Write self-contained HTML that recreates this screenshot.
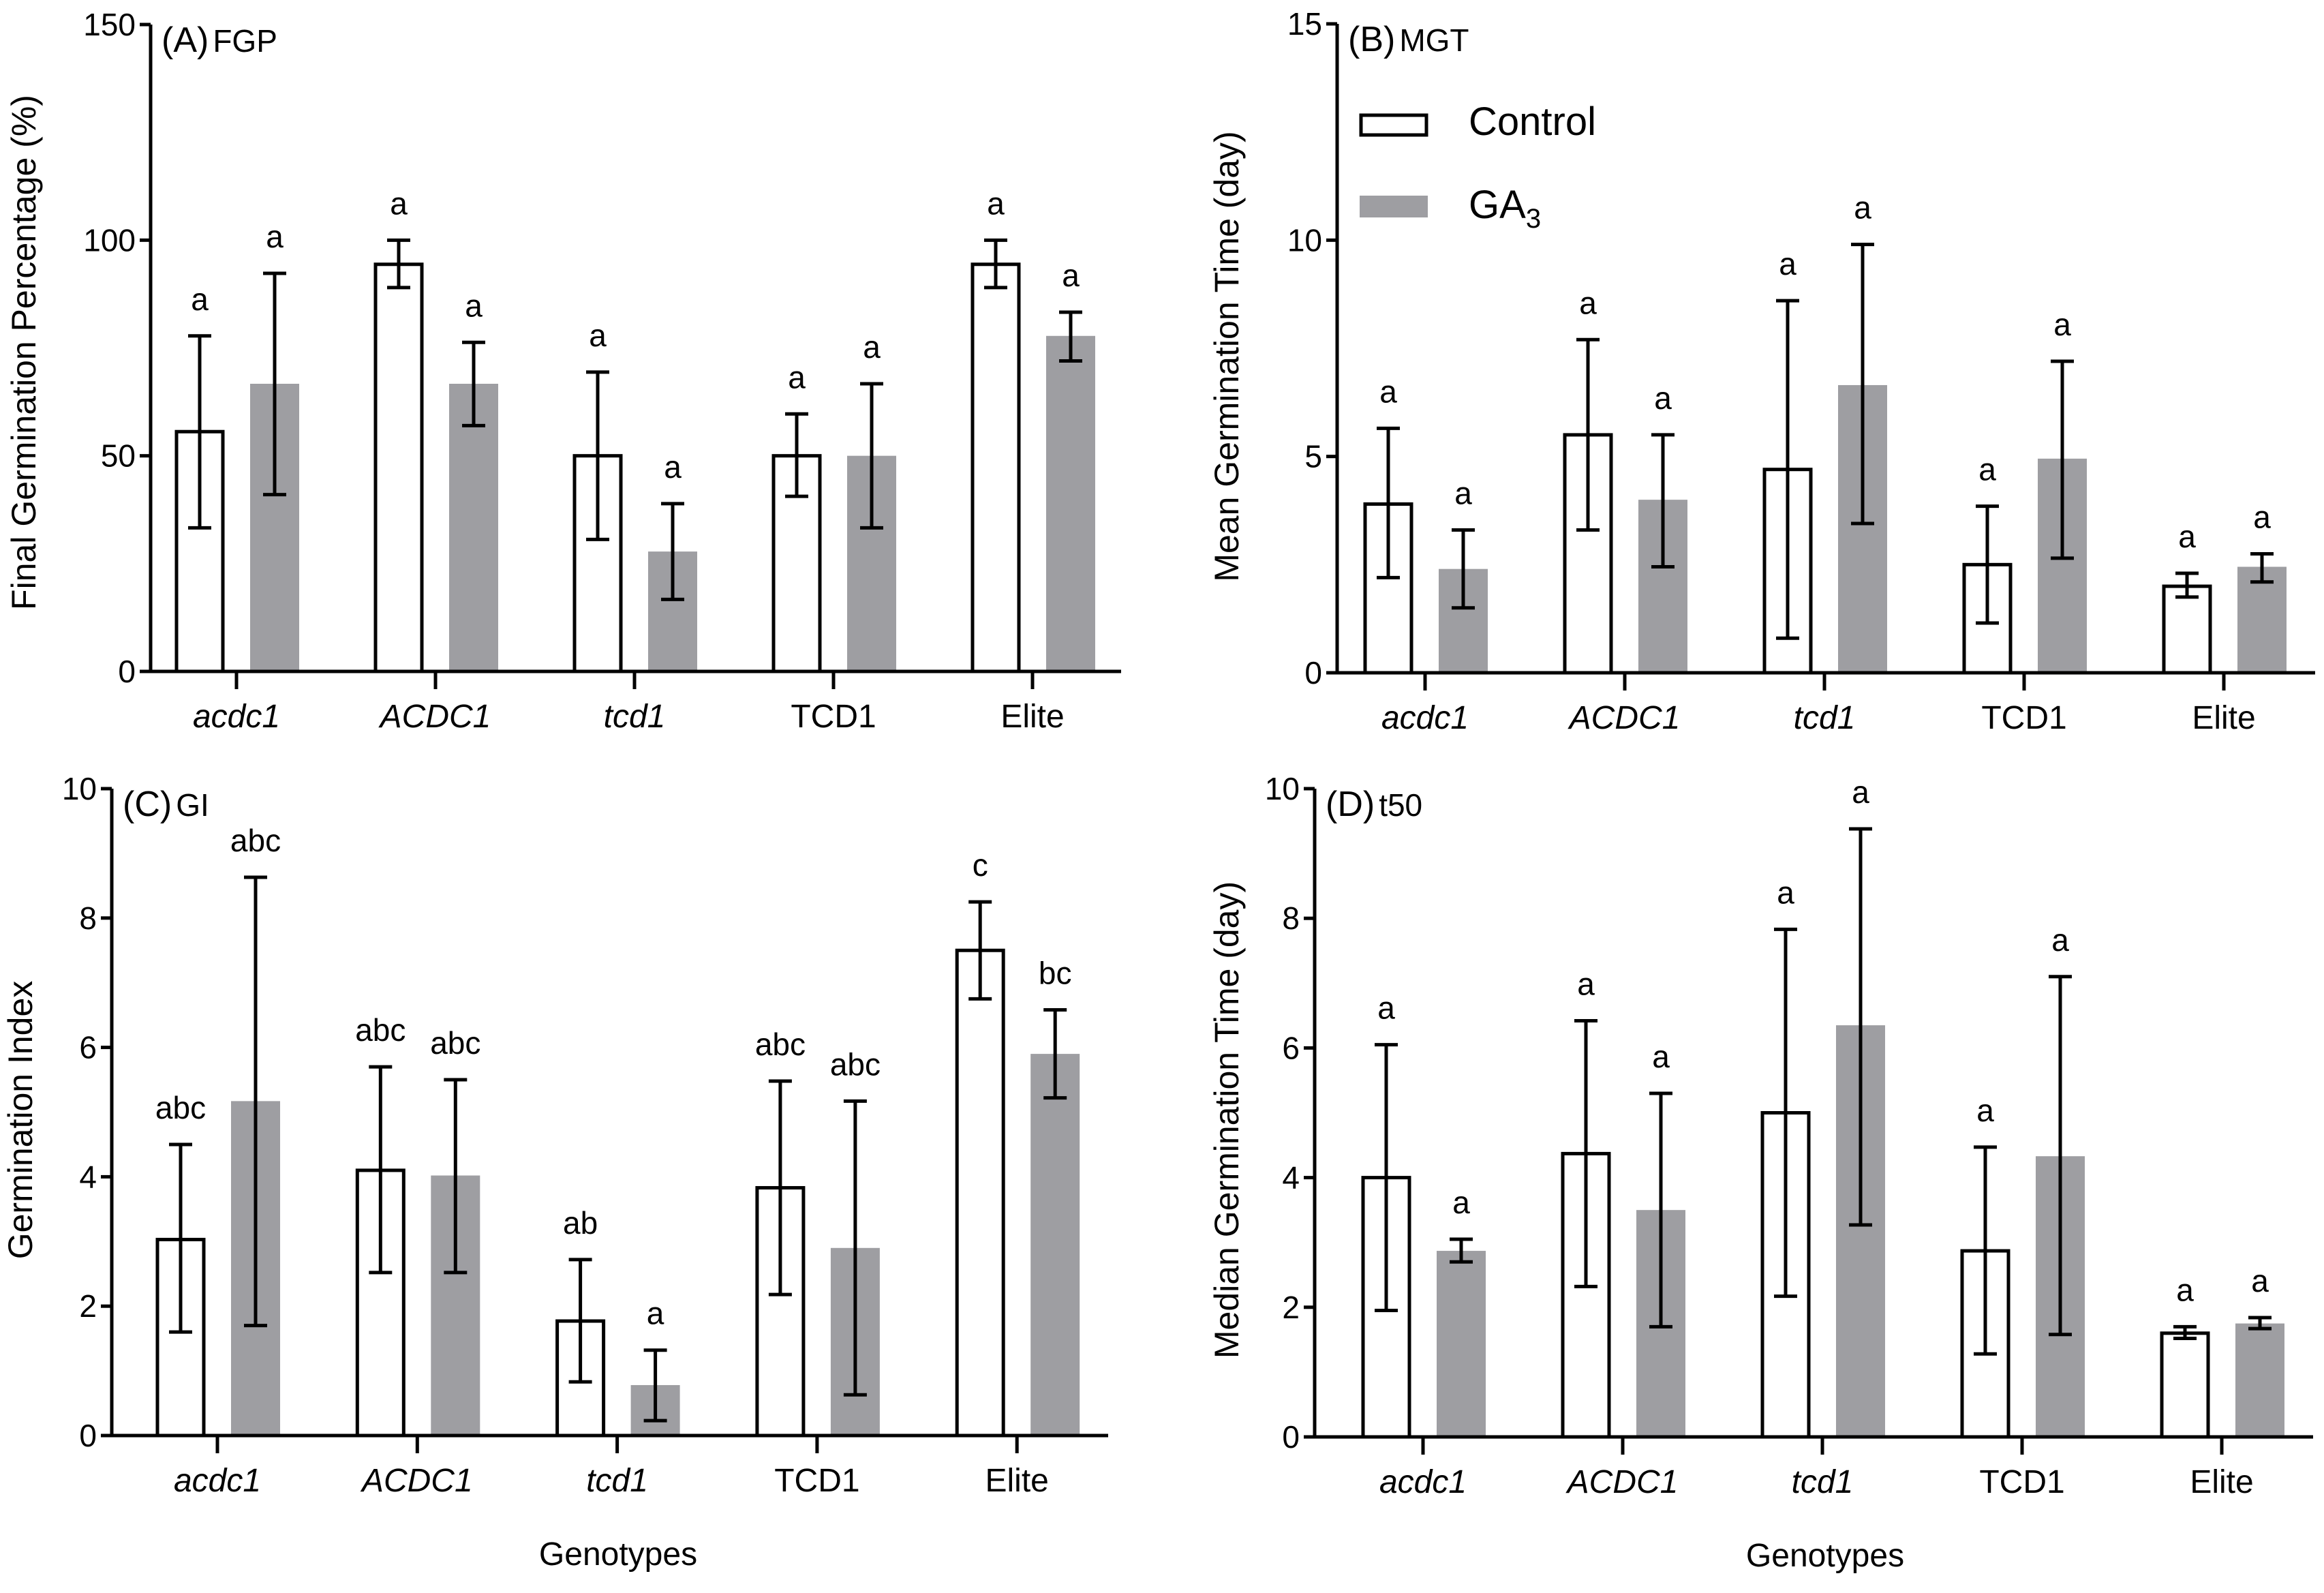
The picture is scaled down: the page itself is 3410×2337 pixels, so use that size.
<!DOCTYPE html>
<html><head><meta charset="utf-8"><style>
html,body{margin:0;padding:0;background:#fff;}
svg{display:block;font-family:"Liberation Sans",Arial,sans-serif;}
</style></head><body>
<svg id="fig" width="3410" height="2337" viewBox="0 0 3410 2337" xmlns="http://www.w3.org/2000/svg">
<g>
<rect x="1997" y="169" width="96" height="29" fill="#fff" stroke="#000" stroke-width="5"/>
<text x="2155" y="198" font-size="58">Control</text>
<rect x="1995" y="287" width="100" height="32" fill="#9e9ea2"/>
<text x="2155" y="320" font-size="58">GA<tspan font-size="40" dy="14">3</tspan></text>
</g>
</svg>
<script>
const categories = ["acdc1","ACDC1","tcd1","TCD1","Elite"];
const italicCats = [true,true,true,false,false];
// Panel A FGP
const fgpControl = [55.6,94.4,50,50,94.4];
const fgpControlLo = [33.3,89,30.6,40.6,89];
const fgpControlHi = [77.8,100,69.4,59.7,100];
const fgpGA3 = [66.7,66.7,27.8,50,77.8];
const fgpGA3Lo = [41,57,16.7,33.3,72];
const fgpGA3Hi = [92.3,76.3,38.9,66.7,83.3];
const fgpLettersC = ["a","a","a","a","a"];
const fgpLettersG = ["a","a","a","a","a"];
const fgpTicks = [0,50,100,150];
// Panel B MGT
const mgtControl = [3.9,5.5,4.7,2.5,2.0];
const mgtControlLo = [2.2,3.3,0.8,1.15,1.75];
const mgtControlHi = [5.65,7.7,8.6,3.85,2.3];
const mgtGA3 = [2.4,4.0,6.65,4.95,2.45];
const mgtGA3Lo = [1.5,2.45,3.45,2.65,2.1];
const mgtGA3Hi = [3.3,5.5,9.9,7.2,2.75];
const mgtLettersC = ["a","a","a","a","a"];
const mgtLettersG = ["a","a","a","a","a"];
const mgtTicks = [0,5,10,15];
// Panel C GI
const giControl = [3.03,4.1,1.77,3.83,7.5];
const giControlLo = [1.6,2.52,0.83,2.18,6.75];
const giControlHi = [4.5,5.7,2.72,5.48,8.25];
const giGA3 = [5.17,4.02,0.78,2.9,5.9];
const giGA3Lo = [1.7,2.52,0.23,0.63,5.22];
const giGA3Hi = [8.63,5.5,1.32,5.17,6.58];
const giLettersC = ["abc","abc","ab","abc","c"];
const giLettersG = ["abc","abc","a","abc","bc"];
const giTicks = [0,2,4,6,8,10];
// Panel D t50
const t50Control = [4.0,4.37,5.0,2.87,1.6];
const t50ControlLo = [1.95,2.32,2.17,1.28,1.52];
const t50ControlHi = [6.05,6.42,7.83,4.47,1.7];
const t50GA3 = [2.87,3.5,6.35,4.33,1.75];
const t50GA3Lo = [2.7,1.7,3.27,1.58,1.67];
const t50GA3Hi = [3.05,5.3,9.38,7.1,1.84];
const t50LettersC = ["a","a","a","a","a"];
const t50LettersG = ["a","a","a","a","a"];
const t50Ticks = [0,2,4,6,8,10];

const NS="http://www.w3.org/2000/svg";
const svg=document.getElementById('fig');
function mk(tag,attrs,parent){const e=document.createElementNS(NS,tag);for(const k in attrs)e.setAttribute(k,attrs[k]);(parent||svg).appendChild(e);return e;}

function panel(p){
  const g=mk('g',{});
  
  
  const ymax=p.ticks[p.ticks.length-1];
  const y=v=>p.y0-(v/ymax)*(p.y0-p.yTop);
  const x=i=>p.x1+i*p.step;
  for(let i=0;i<categories.length;i++){
    const cx=x(i)-54, gx=x(i)+56, w=68;
    const gb=mk('rect',{x:gx-w/2-2,y:y(p.g[i]),width:w+4,height:p.y0-y(p.g[i]),fill:'#9e9ea2'},g);
    
    
    const cb=mk('rect',{x:cx-w/2,y:y(p.c[i]),width:w,height:p.y0-y(p.c[i]),fill:'#fff',stroke:'#000','stroke-width':5},g);
    
    
    [[cx,p.cl[i],p.ch[i],p.lc[i]],[gx,p.gl[i],p.gh[i],p.lg[i]]].forEach(([bx,lo,hi,lab],k)=>{
      const eb=mk('path',{d:`M${bx} ${y(lo)}V${y(hi)}M${bx-17} ${y(lo)}H${bx+17}M${bx-17} ${y(hi)}H${bx+17}`,stroke:'#000','stroke-width':5,fill:'none'},g);
      
      
      const t=mk('text',{x:bx,y:y(hi)-38,'font-size':46,'text-anchor':'middle'},g);
      t.textContent=lab;
      
      
    });
  }
  const ax=mk('path',{d:`M${p.ax} ${p.yTop}V${p.y0}H${p.xEnd}`,stroke:'#000','stroke-width':5,fill:'none'},g);
  
  
  p.ticks.forEach(v=>{
    const tk=mk('path',{d:`M${p.ax-16} ${y(v)}H${p.ax}`,stroke:'#000','stroke-width':5},g);
    
    
    const t=mk('text',{x:p.ax-22,y:y(v)+16,'font-size':46,'text-anchor':'end'},g);
    t.textContent=v;
    
    
  });
  categories.forEach((c,i)=>{
    const tk=mk('path',{d:`M${x(i)} ${p.y0}V${p.y0+26}`,stroke:'#000','stroke-width':5},g);
    
    
    const t=mk('text',{x:x(i),y:p.y0+82,'font-size':48,'text-anchor':'middle','font-style':italicCats[i]?'italic':'normal'},g);
    t.textContent=c;
    
    
  });
  const yt=mk('text',{x:0,y:0,'font-size':50,'text-anchor':'middle','xml:space':'preserve',transform:`translate(${p.ytX},${p.ytY}) rotate(-90)`},g);
  yt.textContent=p.ytitle;
  
  
  const pl=mk('text',{x:p.ax+16,y:p.yTop+40,'font-size':52,'font-family':'"Liberation Sans Narrow","Liberation Sans",sans-serif'},g);
  pl.innerHTML=p.label+'<tspan font-size="46" dx="6">'+p.sub+'</tspan>';
  
  
  if(p.xtitle){
    const xt=mk('text',{x:p.xtX,y:p.y0+190,'font-size':48,'text-anchor':'middle'},g);
    xt.textContent='Genotypes';
    
    
  }
}
panel({id:'fgp',label:'(A)',sub:'FGP',ax:221,yTop:36,y0:985,x1:347,step:292,xEnd:1645,ticks:fgpTicks,
  c:fgpControl,cl:fgpControlLo,ch:fgpControlHi,g:fgpGA3,gl:fgpGA3Lo,gh:fgpGA3Hi,lc:fgpLettersC,lg:fgpLettersG,
  ytitle:'Final Germination  Percentage (%)',ytX:52,ytY:517});
panel({id:'mgt',label:'(B)',sub:'MGT',ax:1962,yTop:35,y0:987,x1:2091,step:293,xEnd:3397,ticks:mgtTicks,
  c:mgtControl,cl:mgtControlLo,ch:mgtControlHi,g:mgtGA3,gl:mgtGA3Lo,gh:mgtGA3Hi,lc:mgtLettersC,lg:mgtLettersG,
  ytitle:'Mean  Germination Time (day)',ytX:1817,ytY:523});
panel({id:'gi',label:'(C)',sub:'GI',ax:164,yTop:1157,y0:2106,x1:319,step:293.3,xEnd:1626,ticks:giTicks,
  c:giControl,cl:giControlLo,ch:giControlHi,g:giGA3,gl:giGA3Lo,gh:giGA3Hi,lc:giLettersC,lg:giLettersG,
  ytitle:'Germination Index',ytX:47,ytY:1643,xtitle:true,xtX:907});
panel({id:'t50',label:'(D)',sub:'t50',ax:1929,yTop:1157,y0:2108,x1:2088,step:293,xEnd:3394,ticks:t50Ticks,
  c:t50Control,cl:t50ControlLo,ch:t50ControlHi,g:t50GA3,gl:t50GA3Lo,gh:t50GA3Hi,lc:t50LettersC,lg:t50LettersG,
  ytitle:'Median  Germination  Time (day)',ytX:1817,ytY:1643,xtitle:true,xtX:2678});
</script>
</body></html>
